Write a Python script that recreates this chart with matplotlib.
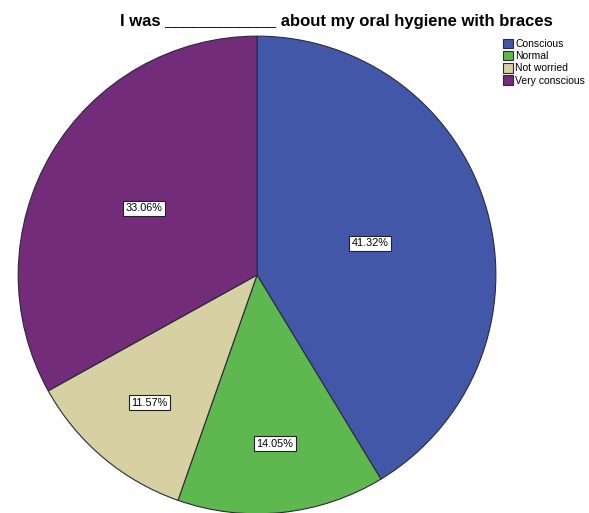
import matplotlib.pyplot as plt

plt.rcParams["font.family"] = ["Liberation Sans", "DejaVu Sans"]

categories = ["Conscious", "Normal", "Not worried", "Very conscious"]
percents = [41.32, 14.05, 11.57, 33.06]
colors = ["#4257a8", "#5fb74f", "#d6d0a2", "#732c79"]
# radial position of each percentage label (fraction of radius)
label_dist = [0.49, 0.71, 0.70, 0.55]

fig = plt.figure(figsize=(5.89, 5.13), dpi=100)
ax = fig.add_axes([0.0289, -0.004, 0.815, 0.936])

wedges, texts, autotexts = ax.pie(
    percents, colors=colors, startangle=90, counterclock=False,
    autopct="%.2f%%", pctdistance=0.6,
    wedgeprops=dict(edgecolor="#2a2a3a", linewidth=0.8),
    textprops=dict(fontsize=7.8, color="black"))
ax.set_xlim(-1.005, 1.005)
ax.set_ylim(-1.005, 1.005)
ax.set_aspect("equal")

for t, d in zip(autotexts, label_dist):
    x, y = t.get_position()
    r = (x ** 2 + y ** 2) ** 0.5
    t.set_position((x / r * d, y / r * d))
    t.set_bbox(dict(facecolor="white", edgecolor="#222222", linewidth=0.8, pad=1.8))

fig.text(0.5705, 0.959, "I was ____________ about my oral hygiene with braces",
         ha="center", va="center", fontsize=12, fontweight="bold")

fig.legend(wedges, categories, loc="upper left", bbox_to_anchor=(0.845, 0.935),
           frameon=False, fontsize=7.5, handlelength=1.0, handleheight=1.0,
           handletextpad=0.2, labelspacing=0.2, borderpad=0)

fig.savefig("out.png", dpi=100)
